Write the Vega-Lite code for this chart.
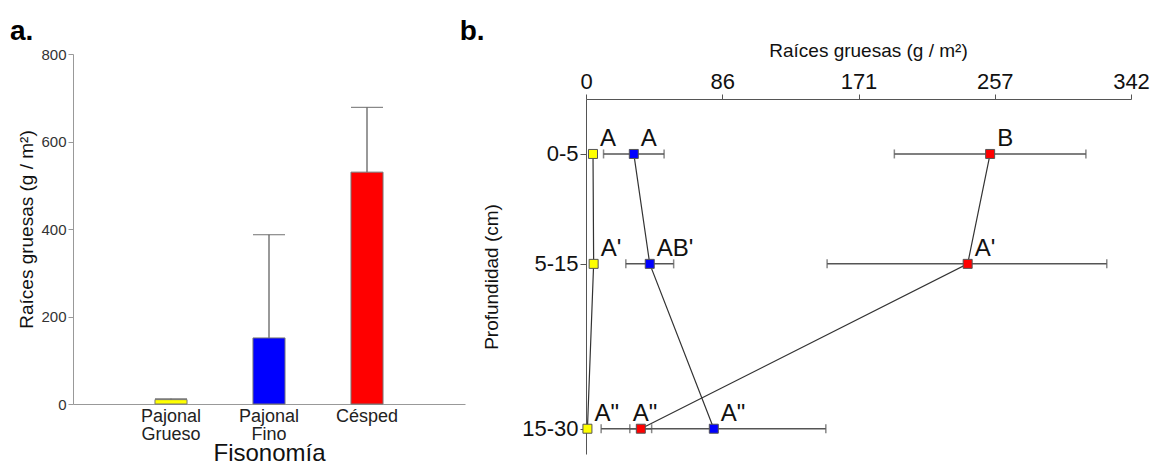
{
  "$schema": "https://vega.github.io/schema/vega-lite/v6.json",
  "background": "white",
  "padding": {"left": 9, "top": 18, "right": 0, "bottom": 0},
  "spacing": -6,
  "config": {
    "view": {"stroke": null},
    "font": "Liberation Sans, Arial, sans-serif",
    "axis": {"grid": false, "labelFont": "Liberation Sans, Arial, sans-serif", "titleFont": "Liberation Sans, Arial, sans-serif"},
    "title": {"font": "Liberation Sans, Arial, sans-serif"}
  },
  "datasets": {
    "bars": [
      {"fis": "Pajonal Grueso", "value": 10, "upper": 12},
      {"fis": "Pajonal Fino", "value": 151, "upper": 387},
      {"fis": "Césped", "value": 530, "upper": 678}
    ],
    "depth": [
      {"group": "PG", "depth": 5, "value": 4.4, "lo": null, "hi": null, "label": "A"},
      {"group": "PG", "depth": 15, "value": 4.8, "lo": null, "hi": null, "label": "A'"},
      {"group": "PG", "depth": 30, "value": 0.9, "lo": null, "hi": null, "label": "A\""},
      {"group": "PF", "depth": 5, "value": 30, "lo": 11, "hi": 49, "label": "A"},
      {"group": "PF", "depth": 15, "value": 40, "lo": 25, "hi": 55, "label": "AB'"},
      {"group": "PF", "depth": 30, "value": 80.2, "lo": 9.5, "hi": 150.5, "label": "A\""},
      {"group": "C", "depth": 5, "value": 253.6, "lo": 193.5, "hi": 313.7, "label": "B"},
      {"group": "C", "depth": 15, "value": 239.5, "lo": 151.3, "hi": 326.8, "label": "A'"},
      {"group": "C", "depth": 30, "value": 34.4, "lo": 27.5, "hi": 41.2, "label": "A\""}
    ]
  },
  "hconcat": [
    {
      "title": {"text": "a.", "anchor": "start", "fontSize": 28, "fontWeight": "bold", "color": "#000", "dx": -8, "dy": -1, "offset": 0},
      "width": 392,
      "height": 400,
      "data": {"name": "bars"},
      "encoding": {
        "x": {
          "field": "fis", "type": "nominal",
          "sort": ["Pajonal Grueso", "Pajonal Fino", "Césped"],
          "scale": {"paddingInner": 0.673, "paddingOuter": 0.8365},
          "axis": {
            "title": "Fisonomía", "titleFontSize": 24, "titleFontWeight": "normal", "titleColor": "#111",
            "labelFontSize": 18, "labelAngle": 0, "labelColor": "#222",
            "labelExpr": "split(datum.label, ' ')", "labelLineHeight": 18,
            "ticks": false, "domainColor": "#999", "labelPadding": 3, "titlePadding": -2, "offset": -50
          }
        }
      },
      "layer": [
        {
          "mark": {"type": "rule", "color": "#555", "strokeWidth": 1.2},
          "encoding": {
            "y": {
              "field": "value", "type": "quantitative",
              "scale": {"domain": [0, 800], "nice": false, "range": [350, 0]},
              "axis": {
                "values": [0, 200, 400, 600, 800],
                "title": "Raíces gruesas (g / m²)", "titleFontSize": 19, "titleFontWeight": "normal", "titleColor": "#111",
                "labelFontSize": 15, "labelColor": "#333", "tickSize": 5, "labelPadding": 2,
                "domainColor": "#999", "tickColor": "#999", "titlePadding": 4
              }
            },
            "y2": {"field": "upper"}
          }
        },
        {
          "mark": {"type": "bar", "stroke": "#777", "strokeWidth": 1},
          "encoding": {
            "y": {"field": "value", "type": "quantitative", "title": "Raíces gruesas (g / m²)"},
            "color": {
              "field": "fis", "type": "nominal",
              "scale": {"domain": ["Pajonal Grueso", "Pajonal Fino", "Césped"], "range": ["#ffff00", "#0000ff", "#ff0000"]},
              "legend": null
            }
          }
        },
        {
          "mark": {"type": "tick", "orient": "horizontal", "size": 32, "thickness": 1.2, "color": "#555"},
          "encoding": {"y": {"field": "upper", "type": "quantitative", "title": "Raíces gruesas (g / m²)"}}
        }
      ]
    },
    {
      "title": {"text": "b.", "anchor": "start", "fontSize": 28, "fontWeight": "bold", "color": "#000", "dx": -23, "dy": 5, "offset": 0},
      "width": 545,
      "height": 400,
      "data": {"name": "depth"},
      "encoding": {
        "y": {
          "field": "depth", "type": "quantitative",
          "scale": {"domain": [0, 32.3], "range": [45, 400], "nice": false, "zero": false},
          "axis": {
            "values": [5, 15, 30],
            "labelExpr": "datum.value == 5 ? '0-5' : datum.value == 15 ? '5-15' : '15-30'",
            "title": "Profundidad (cm)", "titleFontSize": 19, "titleFontWeight": "normal", "titleColor": "#111",
            "labelFontSize": 22, "labelColor": "#111", "tickSize": 6, "labelPadding": 2, "titlePadding": 20,
            "domainColor": "#555", "tickColor": "#555"
          }
        }
      },
      "layer": [
        {
          "mark": {"type": "line", "color": "#333", "strokeWidth": 1.2},
          "encoding": {
            "x": {
              "field": "value", "type": "quantitative",
              "scale": {"domain": [0, 342], "nice": false, "zero": false},
              "title": "Raíces gruesas (g / m²)",
              "axis": {
                "orient": "top", "values": [0, 85.5, 171, 256.5, 342], "format": ".0f", "offset": -45,
                "labelFontSize": 22, "labelColor": "#111", "tickSize": 5, "labelPadding": 1,
                "labelFlush": false, "labelOverlap": false,
                "titleFontSize": 19, "titleFontWeight": "normal", "titleColor": "#111", "titlePadding": 10, "titleX": 282,
                "domainColor": "#555", "tickColor": "#555"
              }
            },
            "detail": {"field": "group"},
            "order": {"field": "depth"}
          }
        },
        {
          "mark": {"type": "rule", "color": "#555", "strokeWidth": 1.5},
          "encoding": {
            "x": {"field": "lo", "type": "quantitative", "title": "Raíces gruesas (g / m²)"},
            "x2": {"field": "hi"}
          }
        },
        {
          "mark": {"type": "tick", "orient": "vertical", "size": 9, "thickness": 1.5, "color": "#555"},
          "encoding": {"x": {"field": "lo", "type": "quantitative", "title": "Raíces gruesas (g / m²)"}}
        },
        {
          "mark": {"type": "tick", "orient": "vertical", "size": 9, "thickness": 1.5, "color": "#555"},
          "encoding": {"x": {"field": "hi", "type": "quantitative", "title": "Raíces gruesas (g / m²)"}}
        },
        {
          "mark": {"type": "point", "shape": "square", "filled": true, "size": 81, "stroke": "#555", "strokeWidth": 1, "opacity": 1},
          "encoding": {
            "x": {"field": "value", "type": "quantitative", "title": "Raíces gruesas (g / m²)"},
            "color": {
              "field": "group", "type": "nominal",
              "scale": {"domain": ["PG", "PF", "C"], "range": ["#ffff00", "#0000ff", "#ff0000"]},
              "legend": null
            }
          }
        },
        {
          "transform": [{"filter": "!(datum.group == 'C' && datum.depth == 30)"}],
          "mark": {"type": "text", "align": "left", "baseline": "alphabetic", "dx": 7, "dy": -8, "fontSize": 24, "color": "#111"},
          "encoding": {
            "x": {"field": "value", "type": "quantitative", "title": "Raíces gruesas (g / m²)"},
            "text": {"field": "label"}
          }
        },
        {
          "transform": [{"filter": "datum.group == 'C' && datum.depth == 30"}],
          "mark": {"type": "text", "align": "left", "baseline": "alphabetic", "dx": -8, "dy": -8, "fontSize": 24, "color": "#111"},
          "encoding": {
            "x": {"field": "value", "type": "quantitative", "title": "Raíces gruesas (g / m²)"},
            "text": {"field": "label"}
          }
        }
      ]
    }
  ]
}
